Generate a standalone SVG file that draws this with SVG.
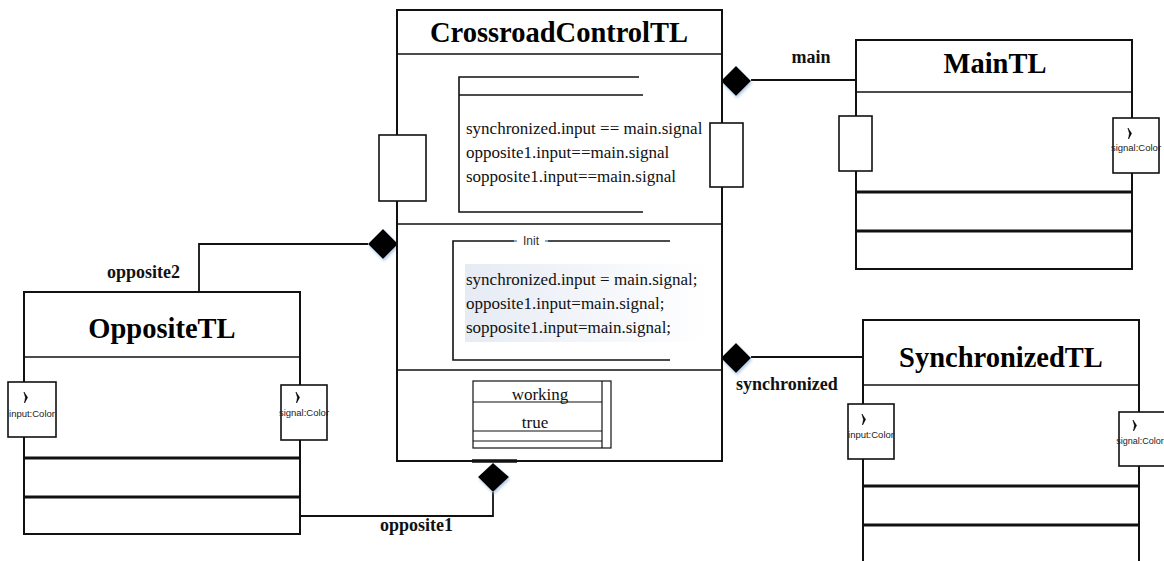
<svg xmlns="http://www.w3.org/2000/svg" xmlns:xlink="http://www.w3.org/1999/xlink" width="1164" height="561" viewBox="0 0 1164 561">
<style>
.box{fill:#fff;stroke:#111;stroke-width:2}
.div{stroke:#111;stroke-width:1.6;fill:none}
.thick{stroke:#111;stroke-width:3;fill:none}
.frame{stroke:#111;stroke-width:1.6;fill:none}
.tbl{stroke:#111;stroke-width:1.2;fill:none}
.port{fill:#fff;stroke:#111;stroke-width:1.6}
.title{font-family:"Liberation Serif",serif;font-weight:bold;font-size:28.5px;fill:#000;text-anchor:middle}
.lbl{font-family:"Liberation Serif",serif;font-weight:bold;font-size:18px;fill:#111}
.body{font-family:"Liberation Serif",serif;font-size:17px;fill:#111}
.ptxt{font-family:"Liberation Sans",sans-serif;font-size:9.5px;fill:#222;text-anchor:middle}
.conn{fill:none;stroke:#111;stroke-width:1.8}
.dia{fill:#000;filter:url(#sh)}
</style>
<defs>
<path id="arr" d="M0,0 L3.5,5.5 L0.5,11 L1.5,5.5 Z" fill="#000" stroke="#000" stroke-width="0.6" stroke-linejoin="round"/>
<filter id="sh" x="-30%" y="-30%" width="170%" height="170%">
<feDropShadow dx="1" dy="2" stdDeviation="1.5" flood-color="#8fb0d8" flood-opacity="0.7"/>
</filter>
<linearGradient id="hl" x1="0" y1="0" x2="1" y2="0">
<stop offset="0" stop-color="#e6ebf4"/>
<stop offset="1" stop-color="#ffffff"/>
</linearGradient>
</defs>

<g id="connectors">
<polyline class="conn" points="751,80 856,80"/>
<polyline class="conn" points="751,357 863,357"/>
<polyline class="conn" points="368,244 199,244 199,292"/>
<polyline class="conn" points="493,492 493,516 301,516"/>
<path class="dia" d="M736,66 L751,81 L736,96 L721,81 Z"/>
<path class="dia" d="M736,343 L751,358 L736,373 L721,358 Z"/>
<path class="dia" d="M383,229 L398,244 L383,259 L368,244 Z"/>
<path class="dia" d="M493,463 L509,477 L493,492 L478,477 Z"/>
<text class="lbl" x="811" y="63" text-anchor="middle">main</text>
<text class="lbl" x="736" y="390">synchronized</text>
<text class="lbl" x="107" y="278">opposite2</text>
<text class="lbl" x="380" y="531">opposite1</text>
</g>

<g id="CrossroadControlTL">
<rect class="box" x="397" y="10" width="325" height="451"/>
<line class="div" x1="397" y1="54" x2="722" y2="54"/>
<line class="div" x1="397" y1="224" x2="722" y2="224"/>
<line class="div" x1="397" y1="370" x2="722" y2="370"/>
<line stroke="#111" stroke-width="3.5" x1="472" y1="461" x2="517" y2="461"/>
<text class="title" x="559" y="42">CrossroadControlTL</text>
<polyline class="frame" points="639,77 459,77 459,212 643,212"/>
<line class="frame" x1="459" y1="95" x2="643" y2="95"/>
<text class="body" x="466" y="134">synchronized.input == main.signal</text>
<text class="body" x="466" y="158">opposite1.input==main.signal</text>
<text class="body" x="466" y="182">sopposite1.input==main.signal</text>
<polyline class="frame" points="514,241 453,241 453,360 670,360"/>
<line class="frame" x1="548" y1="241" x2="670" y2="241"/>
<line stroke="#5b9bd5" stroke-width="1.6" x1="514" y1="241" x2="517" y2="241"/>
<line stroke="#5b9bd5" stroke-width="1.6" x1="545" y1="241" x2="548" y2="241"/>
<text x="531" y="245" font-family="Liberation Sans,sans-serif" font-size="12" fill="#333" text-anchor="middle">Init</text>
<rect x="465" y="264" width="242" height="78" fill="url(#hl)"/>
<text class="body" x="466" y="285">synchronized.input = main.signal;</text>
<text class="body" x="466" y="309">opposite1.input=main.signal;</text>
<text class="body" x="466" y="333">sopposite1.input=main.signal;</text>
<rect class="tbl" x="473" y="381" width="138" height="67" fill="#fff"/>
<line class="tbl" x1="602" y1="381" x2="602" y2="448"/>
<line class="tbl" x1="473" y1="402" x2="602" y2="402"/>
<line class="tbl" x1="473" y1="431" x2="602" y2="431"/>
<line class="tbl" x1="473" y1="441" x2="602" y2="441"/>
<text class="body" x="540" y="400" text-anchor="middle">working</text>
<text class="body" x="535" y="428" text-anchor="middle">true</text>
<rect class="port" x="379" y="135" width="47" height="66"/>
<rect class="port" x="710" y="123" width="33" height="64"/>
</g>

<g id="MainTL">
<rect class="box" x="856" y="40" width="276" height="229"/>
<line class="div" x1="856" y1="92" x2="1132" y2="92"/>
<line class="thick" x1="856" y1="192" x2="1132" y2="192"/>
<line class="thick" x1="856" y1="231" x2="1132" y2="231"/>
<text class="title" x="995" y="73">MainTL</text>
<rect class="port" x="839" y="116" width="33" height="55"/>
<rect class="port" x="1113" y="118" width="46" height="55"/>
<use xlink:href="#arr" x="1128" y="128"/>
<text class="ptxt" x="1136" y="151">signal:Color</text>
</g>

<g id="OppositeTL">
<rect class="box" x="24" y="292" width="276" height="242"/>
<line class="div" x1="24" y1="357" x2="300" y2="357"/>
<line class="thick" x1="24" y1="458" x2="300" y2="458"/>
<line class="thick" x1="24" y1="497" x2="300" y2="497"/>
<text class="title" x="162" y="338">OppositeTL</text>
<rect class="port" x="8" y="382" width="48" height="55"/>
<use xlink:href="#arr" x="24" y="392"/>
<text class="ptxt" x="32" y="417">input:Color</text>
<rect class="port" x="281" y="385" width="46" height="55"/>
<use xlink:href="#arr" x="296" y="392"/>
<text class="ptxt" x="304" y="416">signal:Color</text>
</g>

<g id="SynchronizedTL">
<rect class="box" x="863" y="320" width="276" height="260"/>
<line class="div" x1="863" y1="385" x2="1139" y2="385"/>
<line class="thick" x1="863" y1="486" x2="1139" y2="486"/>
<line class="thick" x1="863" y1="525" x2="1139" y2="525"/>
<text class="title" x="1001" y="367">SynchronizedTL</text>
<rect class="port" x="848" y="404" width="46" height="55"/>
<use xlink:href="#arr" x="862" y="414"/>
<text class="ptxt" x="871" y="438">input:Color</text>
<rect class="port" x="1119" y="412" width="46" height="54"/>
<use xlink:href="#arr" x="1133" y="420"/>
<text class="ptxt" x="1140" y="444" style="font-size:9px">signal:Color</text>
</g>
</svg>
